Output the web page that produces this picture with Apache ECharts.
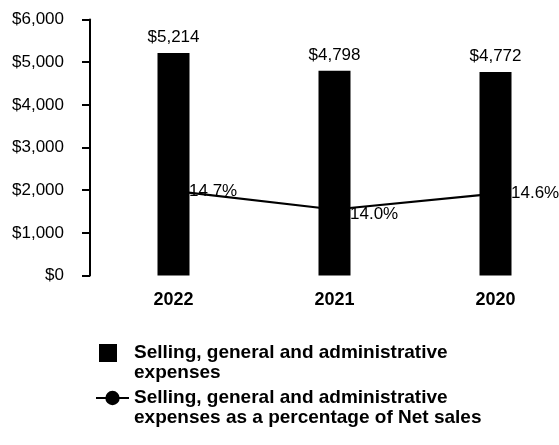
<!DOCTYPE html>
<html>
<head>
<meta charset="utf-8">
<script src="https://cdn.jsdelivr.net/npm/echarts@6/dist/echarts.min.js"></script>
<style>
html,body{margin:0;padding:0;background:#fff;}
#chart{width:559px;height:445px;}
</style>
</head>
<body>
<div id="chart"></div>
<script>
const categories = ['2022', '2021', '2020'];
const sgaExpenses = [5214, 4798, 4772];
const sgaPercent = [14.7, 14.0, 14.6];
const yTicks = [0, 1000, 2000, 3000, 4000, 5000, 6000];
const barName = 'Selling, general and administrative\nexpenses';
const lineName = 'Selling, general and administrative\nexpenses as a percentage of Net sales';

const font = '"Liberation Sans", Arial, Helvetica, sans-serif';
const chart = echarts.init(document.getElementById('chart'));
chart.setOption({
  animation: false,
  backgroundColor: '#fff',
  textStyle: { fontFamily: font, color: '#000' },
  grid: { left: 93, top: 19.5, width: 483, height: 256, outerBoundsMode: 'none' },
  legend: {
    orient: 'vertical',
    left: 95,
    top: 323,
    padding: 0,
    itemWidth: 33,
    itemHeight: 18,
    itemGap: -15,
    formatter: name => '\n' + name,
    textStyle: {
      fontFamily: font, fontSize: 19, fontWeight: 'bold', color: '#000',
      lineHeight: 20
    },
    data: [
      { name: barName, icon: 'path://M3,0H21V18H3Z M0,9L0,9 M33,9L33,9' },
      { name: lineName }
    ]
  },
  xAxis: {
    type: 'category',
    data: categories,
    axisLine: { show: false },
    axisTick: { show: false },
    axisLabel: { margin: 16, fontSize: 18, fontWeight: 'bold', color: '#000', fontFamily: font }
  },
  yAxis: [
    {
      type: 'value',
      min: yTicks[0],
      max: yTicks[yTicks.length - 1],
      interval: 1000,
      offset: 3,
      axisLine: { show: true, lineStyle: { color: '#000', width: 2 } },
      axisTick: { show: true, length: 8, lineStyle: { color: '#000', width: 2 } },
      splitLine: { show: false },
      axisLabel: {
        margin: 26, fontSize: 17, color: '#000', fontFamily: font,
        formatter: v => '$' + v.toLocaleString('en-US')
      }
    },
    {
      type: 'value',
      show: false,
      min: 11.51,
      max: 21.17,
      splitLine: { show: false }
    }
  ],
  series: [
    {
      name: lineName,
      type: 'line',
      yAxisIndex: 1,
      data: sgaPercent,
      z: 1,
      symbol: 'circle',
      symbolSize: 9,
      itemStyle: { color: '#000' },
      lineStyle: { color: '#000', width: 2.2 },
      label: {
        show: true,
        position: 'right',
        distance: 11,
        fontSize: 17,
        color: '#000',
        fontFamily: font,
        formatter: p => p.value.toFixed(1) + '%'
      },
      labelLayout: p => (p.dataIndex === 1 ? { dy: 5 } : {})
    },
    {
      name: barName,
      type: 'bar',
      data: sgaExpenses,
      barWidth: 32,
      z: 3,
      itemStyle: { color: '#000' },
      label: {
        show: true,
        position: 'top',
        distance: 7,
        fontSize: 17,
        color: '#000',
        fontFamily: font,
        formatter: p => '$' + p.value.toLocaleString('en-US')
      }
    }
  ]
});
</script>
</body>
</html>
